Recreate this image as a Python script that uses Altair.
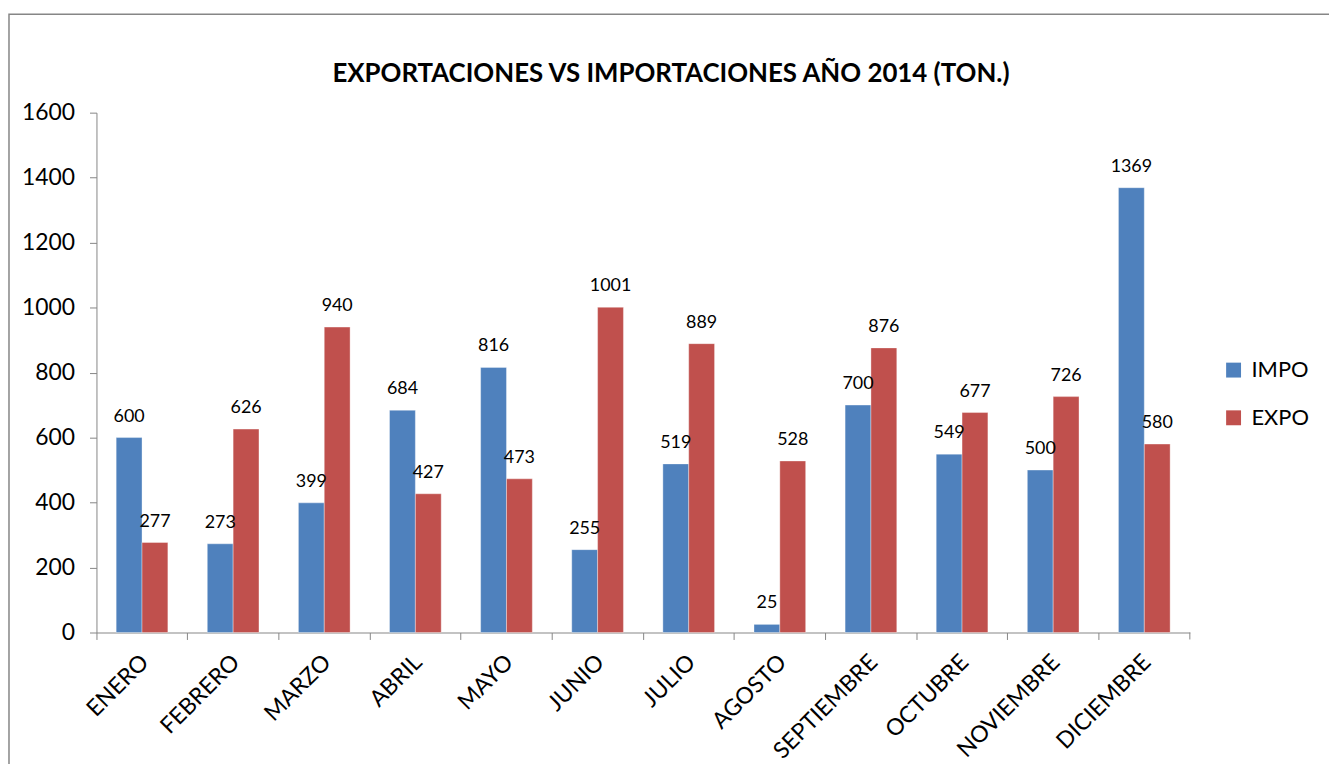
import altair as alt
import pandas as pd

meses = ["ENERO", "FEBRERO", "MARZO", "ABRIL", "MAYO", "JUNIO", "JULIO",
         "AGOSTO", "SEPTIEMBRE", "OCTUBRE", "NOVIEMBRE", "DICIEMBRE"]
impo = [600, 273, 399, 684, 816, 255, 519, 25, 700, 549, 500, 1369]
expo = [277, 626, 940, 427, 473, 1001, 889, 528, 876, 677, 726, 580]
series = ["IMPO", "EXPO"]
colores = ["#4F81BD", "#C0504D"]
y_ticks = [0, 200, 400, 600, 800, 1000, 1200, 1400, 1600]
titulo = "EXPORTACIONES VS IMPORTACIONES AÑO 2014 (TON.)"

rows = []
for m, a, b in zip(meses, impo, expo):
    rows.append({"mes": m, "serie": "IMPO", "valor": a})
    rows.append({"mes": m, "serie": "EXPO", "valor": b})
df = pd.DataFrame(rows)

FONT = "Lato"
GRAY = "#868686"

x_enc = alt.X("mes:N", sort=meses,
              scale=alt.Scale(paddingInner=0, paddingOuter=0),
              axis=alt.Axis(title=None, labelAngle=-45, labelAlign="right",
                            labelBaseline="middle", labelFont=FONT,
                            labelFontSize=23, labelColor="black",
                            labelPadding=19, bandPosition=0, tickSize=7,
                            tickColor=GRAY, domainColor=GRAY, labelOffset=3))
xo_enc = alt.XOffset("serie:N", sort=series,
                     scale=alt.Scale(domain=series, paddingInner=0, paddingOuter=0.763))
y_enc = alt.Y("valor:Q",
              scale=alt.Scale(domain=[0, 1600], nice=False),
              axis=alt.Axis(title=None, values=y_ticks, grid=False, format="d",
                            labelFont=FONT, labelFontSize=23, labelColor="black",
                            labelPadding=15, tickSize=7, tickColor=GRAY,
                            domainColor=GRAY))

bars = alt.Chart(df).mark_bar(stroke="white", strokeWidth=0.6, strokeOpacity=0.6).encode(
    x=x_enc, xOffset=xo_enc, y=y_enc,
    color=alt.Color("serie:N", sort=series,
                    scale=alt.Scale(domain=series, range=colores),
                    legend=alt.Legend(title=None, orient="none", legendX=1133,
                                      legendY=248, symbolType="square",
                                      symbolSize=225, symbolStrokeWidth=0,
                                      labelFont=FONT, labelFontSize=22,
                                      labelColor="black", rowPadding=26,
                                      labelOffset=7)),
)

labels = alt.Chart(df).mark_text(baseline="bottom", dy=-12, font=FONT,
                                 fontSize=18, color="black").encode(
    x=alt.X("mes:N", sort=meses), xOffset=alt.XOffset("serie:N", sort=series),
    y=alt.Y("valor:Q"), text=alt.Text("valor:Q"))

one = pd.DataFrame({"k": [0]})
end_tick = alt.Chart(one).mark_rule(color=GRAY, strokeWidth=1).encode(
    x=alt.value(1100), y=alt.value(523), y2=alt.value(530))

frame = alt.Chart(one).mark_rect(fillOpacity=0, stroke=GRAY, strokeWidth=1.5).encode(
    x=alt.value(-88), x2=alt.value(1400), y=alt.value(-99), y2=alt.value(800))

title_df = pd.DataFrame({"t": [titulo]})
title = alt.Chart(title_df).mark_text(font=FONT, fontSize=26, fontWeight="bold",
                                      color="black", align="center",
                                      baseline="alphabetic").encode(
    x=alt.value(578), y=alt.value(-31), text="t:N")

chart = alt.layer(frame, bars, labels, end_tick, title).properties(
    width=1100, height=523,
    autosize=alt.AutoSizeParams(type="none"),
    padding={"left": 89, "top": 103, "right": 140, "bottom": 130},
).configure_view(stroke=None)

chart.save("out.html", embed_options={"renderer": "svg", "actions": False})
